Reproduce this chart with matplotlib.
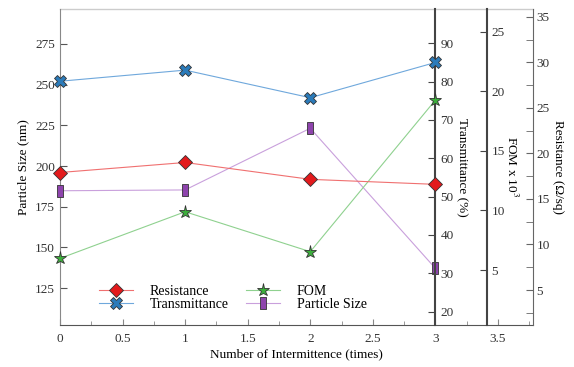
import matplotlib
matplotlib.use("Agg")
import matplotlib.pyplot as plt
from matplotlib.ticker import MultipleLocator
from matplotlib.path import Path

plt.rcParams['font.family'] = ['Liberation Serif', 'DejaVu Serif']
plt.rcParams['mathtext.fontset'] = 'stix'

intermittence = [0, 1, 2, 3]
particle_size = [184.8, 185.3, 223.2, 137.1]
transmittance = [80.1, 83.0, 75.8, 85.0]
fom = [5.98, 9.89, 6.54, 19.26]
resistance = [17.9, 19.0, 17.15, 16.6]

FS = 9.5

fig = plt.figure(figsize=(5.74, 3.67), dpi=100)
ax = fig.add_axes([60/574, 1-325/367, (533-60)/574, (325-9)/367])
ax.set_xlim(0, 3.78)
ax.set_ylim(102.3, 296.5)
for s in ['top', 'right']:
    ax.spines[s].set_visible(False)
ax.spines['left'].set_color('#888888')
ax.spines['bottom'].set_color('#555555')
ax.plot([0, 1], [1, 1], transform=ax.transAxes, color='#cccccc', lw=1, clip_on=False)
ax.xaxis.set_minor_locator(MultipleLocator(0.25))
ax.set_xticks([0, 0.5, 1, 1.5, 2, 2.5, 3, 3.5])
ax.set_xticklabels(['0', '0.5', '1', '1.5', '2', '2.5', '3', '3.5'])
ax.set_yticks([125, 150, 175, 200, 225, 250, 275])
ax.tick_params(axis='both', which='both', direction='in', labelsize=FS, colors='#333333')
ax.tick_params(axis='x', which='major', length=4, color='#888888', pad=6)
ax.tick_params(axis='x', which='minor', length=3, color='#888888')
ax.tick_params(axis='y', length=5, color='#555555')
ax.set_xlabel('Number of Intermittence (times)', fontsize=FS, labelpad=2)
ax.set_ylabel('Particle Size (nm)', fontsize=FS)

# Transmittance axis at x=3
ax2 = ax.twinx()
ax2.set_ylim(16.5, 98.95)
for s in ['top', 'left', 'bottom']:
    ax2.spines[s].set_visible(False)
ax2.spines['right'].set_position(('data', 3))
ax2.spines['right'].set_color('#444444')
ax2.spines['right'].set_linewidth(1.5)
ax2.set_yticks([20, 30, 40, 50, 60, 70, 80, 90])
ax2.tick_params(axis='y', direction='in', length=5, labelsize=FS, color='#444444', labelcolor='#333333')
ax2.set_ylabel('Transmittance (%)', fontsize=FS, rotation=270, labelpad=0)
ax2.yaxis.set_label_coords((468-60)/(533-60), 0.5)

# FOM axis
ax3 = ax.twinx()
ax3.set_ylim(0.39, 26.9)
for s in ['top', 'left', 'bottom']:
    ax3.spines[s].set_visible(False)
ax3.spines['right'].set_position(('data', 3.41))
ax3.spines['right'].set_color('#444444')
ax3.spines['right'].set_linewidth(1.5)
ax3.set_yticks([5, 10, 15, 20, 25])
ax3.tick_params(axis='y', direction='in', length=5, labelsize=FS, color='#444444', labelcolor='#333333')
ax3.set_ylabel('FOM x 10$^3$', fontsize=FS, rotation=270)
ax3.yaxis.set_label_coords((519-60)/(533-60), 0.5)

# Resistance axis
ax4 = ax.twinx()
ax4.set_ylim(1.16, 35.85)
for s in ['top', 'left', 'bottom']:
    ax4.spines[s].set_visible(False)
ax4.spines['right'].set_color('#666666')
ax4.set_yticks([5, 10, 15, 20, 25, 30, 35])
ax4.yaxis.set_minor_locator(MultipleLocator(2.5))
ax4.tick_params(axis='y', which='both', direction='in', length=5, labelsize=FS, color='#666666',
                labelcolor='#333333', pad=2.5)
ax4.set_ylabel('Resistance (\u03a9/sq)', fontsize=FS, rotation=270)
ax4.yaxis.set_label_coords((564-60)/(533-60), 0.5)

rect = Path([(-0.3, -0.5), (0.3, -0.5), (0.3, 0.5), (-0.3, 0.5), (-0.3, -0.5)],
            [Path.MOVETO, Path.LINETO, Path.LINETO, Path.LINETO, Path.CLOSEPOLY])

ms = dict(markeredgecolor='#333333', markeredgewidth=0.6, clip_on=False, zorder=5)
l1, = ax4.plot(intermittence, resistance, color='#f07070', lw=0.8, marker='D', markersize=7.5,
               markerfacecolor='#e31a1c', label='Resistance', **ms)
l2, = ax2.plot(intermittence, transmittance, color='#6fa8dc', lw=0.8, marker='X', markersize=8.5,
               markerfacecolor='#2b7bba', label='Transmittance', **ms)
l3, = ax3.plot(intermittence, fom, color='#8fd18f', lw=0.8, marker='*', markersize=9.5,
               markerfacecolor='#3cae3c', label='FOM', **ms)
l4, = ax.plot(intermittence, particle_size, color='#c9a0dc', lw=0.8, marker=rect, markersize=8,
              markerfacecolor='#8e44ad', label='Particle Size', **ms)

leg = ax4.legend(handles=[l1, l2, l3, l4], loc='lower left', ncol=2, frameon=False,
                 fontsize=10, bbox_to_anchor=(0.055, 0.005), handlelength=2.5,
                 columnspacing=1.2, labelspacing=0.0, handletextpad=1.2)

fig.savefig('out.png', dpi=100)
